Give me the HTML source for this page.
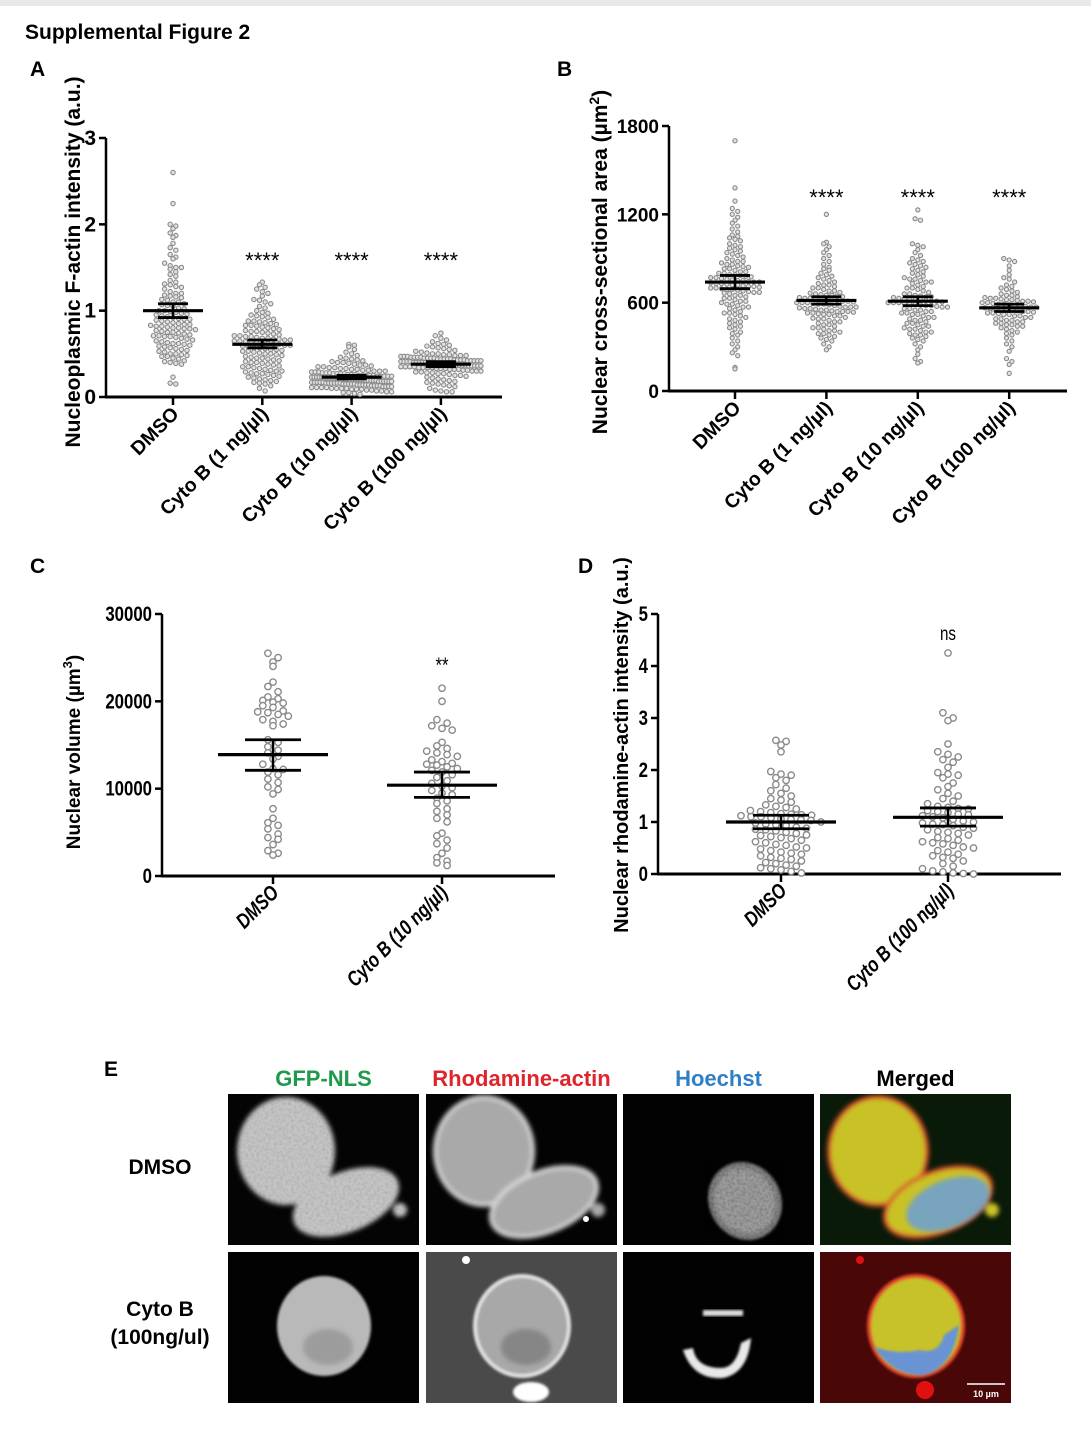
<!DOCTYPE html>
<html><head><meta charset="utf-8">
<style>
html,body{margin:0;padding:0;background:#fff;}
svg{display:block;font-family:"Liberation Sans",Arial,sans-serif;}
</style></head>
<body>
<svg id="fig" width="1091" height="1454" viewBox="0 0 1091 1454" xmlns="http://www.w3.org/2000/svg">
<defs>
<filter id="blur2"><feGaussianBlur stdDeviation="2.5"/></filter>
<filter id="blur1"><feGaussianBlur stdDeviation="1.2"/></filter>
<filter id="noise"><feTurbulence type="fractalNoise" baseFrequency="0.35" numOctaves="2" seed="3"/><feColorMatrix values="0 0 0 0 0  0 0 0 0 0  0 0 0 0 0  0 0 0 -1.6 1.0"/></filter>
</defs>
<rect x="0" y="0" width="1091" height="1454" fill="#fff"/>
<rect x="0" y="0" width="1091" height="6" fill="#e9e9e9"/>
<text x="25" y="39" font-weight="bold" font-size="21">Supplemental Figure 2</text>
<text x="30" y="76" font-weight="bold" font-size="21">A</text>
<text x="557" y="76" font-weight="bold" font-size="21">B</text>
<text x="30" y="573" font-weight="bold" font-size="21">C</text>
<text x="578" y="573" font-weight="bold" font-size="21">D</text>
<text x="104" y="1076" font-weight="bold" font-size="21">E</text>
<g id="charts"></g>
<g id="images"></g>
</svg>
<script>
// ---------- Panel A data ----------
const catsA = ["DMSO","Cyto B (1 ng/\u00b5l)","Cyto B (10 ng/\u00b5l)","Cyto B (100 ng/\u00b5l)"];
const ticksA = [0,1,2,3];
const starsA = ["","****","****","****"];
const meanA = [1.0,0.61,0.23,0.38];
const semLoA = [0.92,0.57,0.21,0.35];
const semHiA = [1.08,0.66,0.25,0.41];
const a0 = [2.6,2.24,2.0,1.98,1.95,1.9,1.87,1.85,1.78,1.73,1.7,1.65,1.62,1.6,1.55,1.52,1.5,1.5,1.48,1.45,1.42,1.4,1.35,1.33,1.31,1.3,1.28,1.27,1.25,1.22,1.2,1.2,1.18,1.16,1.15,1.13,1.12,1.1,1.1,1.08,1.06,1.05,1.03,1.02,1.0,1.0,0.99,0.97,0.96,0.95,0.94,0.93,0.92,0.9,0.9,0.88,0.87,0.86,0.85,0.84,0.84,0.83,0.82,0.82,0.81,0.8,0.8,0.79,0.78,0.77,0.76,0.75,0.75,0.74,0.73,0.72,0.71,0.7,0.7,0.69,0.68,0.67,0.66,0.65,0.64,0.63,0.62,0.62,0.61,0.6,0.58,0.57,0.56,0.55,0.54,0.53,0.52,0.5,0.5,0.49,0.48,0.47,0.47,0.45,0.44,0.42,0.41,0.4,0.39,0.38,0.23,0.16,0.15,1.17,1.07,0.98,0.91,0.89,0.79,0.71,0.59];
const a1 = [1.33,1.3,1.27,1.25,1.22,1.2,1.17,1.13,1.12,1.1,1.08,1.05,1.03,1.0,0.98,0.97,0.95,0.93,0.92,0.9,0.88,0.87,0.86,0.85,0.84,0.83,0.82,0.81,0.8,0.79,0.78,0.77,0.76,0.75,0.74,0.73,0.72,0.71,0.7,0.7,0.69,0.68,0.68,0.67,0.66,0.66,0.65,0.65,0.64,0.63,0.62,0.62,0.61,0.6,0.6,0.59,0.58,0.57,0.56,0.55,0.55,0.54,0.53,0.52,0.51,0.5,0.5,0.49,0.48,0.47,0.46,0.45,0.45,0.44,0.43,0.42,0.41,0.4,0.4,0.39,0.38,0.37,0.36,0.35,0.35,0.34,0.33,0.32,0.31,0.3,0.3,0.29,0.28,0.27,0.27,0.26,0.25,0.24,0.23,0.22,0.21,0.2,0.19,0.18,0.17,0.16,0.15,0.13,0.1,0.07,0.64,0.57,0.61,0.67,0.53,0.71,0.76,0.83,0.88,0.94];
const a2 = [0.61,0.6,0.58,0.55,0.52,0.5,0.48,0.46,0.45,0.44,0.43,0.42,0.41,0.4,0.4,0.39,0.38,0.37,0.37,0.36,0.35,0.35,0.34,0.34,0.33,0.33,0.32,0.32,0.31,0.31,0.3,0.3,0.3,0.29,0.29,0.29,0.28,0.28,0.28,0.27,0.27,0.27,0.26,0.26,0.26,0.25,0.25,0.25,0.25,0.24,0.24,0.24,0.24,0.23,0.23,0.23,0.23,0.22,0.22,0.22,0.22,0.21,0.21,0.21,0.21,0.2,0.2,0.2,0.2,0.19,0.19,0.19,0.19,0.18,0.18,0.18,0.18,0.17,0.17,0.17,0.17,0.16,0.16,0.16,0.16,0.15,0.15,0.15,0.15,0.14,0.14,0.14,0.14,0.13,0.13,0.13,0.12,0.12,0.12,0.11,0.11,0.11,0.1,0.1,0.1,0.09,0.09,0.09,0.08,0.08,0.07,0.07,0.06,0.06,0.05,0.05,0.04,0.03,0.25,0.22,0.2,0.18,0.16,0.14,0.12,0.27,0.21,0.19,0.17,0.15,0.13,0.11,0.24,0.23,0.2,0.18,0.16,0.1];
const a3 = [0.74,0.71,0.68,0.66,0.64,0.62,0.61,0.6,0.59,0.58,0.57,0.56,0.55,0.54,0.53,0.52,0.51,0.5,0.5,0.49,0.49,0.48,0.48,0.47,0.47,0.47,0.46,0.46,0.46,0.45,0.45,0.45,0.45,0.44,0.44,0.44,0.44,0.43,0.43,0.43,0.43,0.42,0.42,0.42,0.42,0.41,0.41,0.41,0.41,0.4,0.4,0.4,0.4,0.39,0.39,0.39,0.39,0.38,0.38,0.38,0.38,0.37,0.37,0.37,0.37,0.36,0.36,0.36,0.36,0.35,0.35,0.35,0.35,0.34,0.34,0.34,0.33,0.33,0.33,0.32,0.32,0.32,0.31,0.31,0.3,0.3,0.3,0.29,0.29,0.28,0.28,0.27,0.27,0.26,0.25,0.25,0.24,0.23,0.22,0.21,0.2,0.19,0.18,0.17,0.16,0.15,0.14,0.13,0.12,0.1,0.08,0.07,0.06,0.06,0.44,0.42,0.4,0.38,0.36,0.46,0.48,0.34];

// ---------- Panel B data ----------
const catsB = catsA;
const ticksB = [0,600,1200,1800];
const starsB = ["","****","****","****"];
const meanB = [740,615,610,565];
const semLoB = [695,590,580,540];
const semHiB = [785,640,640,590];
const b0 = [1700,1380,1290,1240,1220,1200,1180,1160,1140,1120,1100,1080,1060,1050,1040,1030,1020,1000,990,980,970,960,950,940,930,920,910,900,890,880,870,860,850,845,840,830,820,810,800,800,790,785,780,775,770,765,760,755,750,745,740,740,735,730,725,720,720,715,710,705,700,700,695,690,685,680,675,670,665,660,650,640,630,620,610,600,590,580,570,560,550,540,530,520,500,490,480,470,460,450,440,430,420,400,390,380,360,340,320,300,280,260,240,160,150,880,860,830,810,790,770,750,730,710,690,670,650,630,610,590,570,530,510];
const b1 = [1200,1010,1000,980,960,940,920,900,880,860,840,830,820,800,790,780,770,760,750,740,730,720,710,700,690,680,670,665,660,655,650,645,640,635,630,625,620,620,615,610,605,600,600,595,590,585,580,575,570,565,560,555,550,545,540,540,535,530,525,520,510,500,495,490,480,470,460,450,440,430,420,410,400,390,380,370,360,350,340,320,300,280,650,630,610,590,570,550,530,510,490,470,450,430,410,390,560,600,620,680,700,720,570,540,520];
const b2 = [1230,1170,1160,1000,990,980,960,940,920,900,890,880,870,860,850,840,830,820,810,800,790,780,770,760,750,740,730,720,710,700,690,680,670,660,650,645,640,635,630,625,620,615,610,605,600,600,595,590,585,580,575,570,560,550,540,530,520,510,500,490,480,470,460,450,440,430,420,410,400,390,380,370,360,350,340,320,300,280,250,220,200,190,640,620,600,580,560,540,520,500,480,460,440,420,400,380,660,700,740,760,620,610,590,570,550,530];
const b3 = [900,890,880,850,820,790,770,760,740,720,710,700,690,680,670,660,650,640,635,630,625,620,615,610,605,600,595,590,585,580,575,570,565,560,555,550,545,540,535,530,525,520,510,500,490,480,470,460,450,440,430,420,410,400,390,380,360,340,320,300,270,220,200,180,120,620,600,580,560,540,520,500,480,460,440,650,630,610,590,570,550,530,510,490,470,450];

// ---------- Panel C data ----------
const catsC = ["DMSO","Cyto B (10 ng/\u00b5l)"];
const ticksC = [0,10000,20000,30000];
const starsC = ["","**"];
const meanC = [13900,10400];
const semLoC = [12100,9000];
const semHiC = [15600,11900];
const c0 = [25500,25000,24500,24000,22200,21700,21100,20500,20300,20100,19900,19800,19500,19300,18900,18800,18700,18500,18300,17900,17700,17400,17200,15600,15300,14800,14400,14100,13700,13400,12800,12300,12200,11900,11600,11100,10700,10200,9900,9400,7700,6600,6100,5800,5400,4800,4400,4200,3600,2900,2600,2400];
const c1 = [21500,20000,17900,17500,17200,16900,16700,15300,14900,14600,14300,14100,13900,13700,13300,13100,12900,12800,12700,12500,12300,12100,11900,11600,11300,10900,10600,10300,10100,9800,9500,9300,8900,8600,8300,7700,7400,7000,6600,6200,4900,4600,4100,3700,3200,2600,2100,1700,1500,1200];

// ---------- Panel D data ----------
const catsD = ["DMSO","Cyto B (100 ng/\u00b5l)"];
const ticksD = [0,1,2,3,4,5];
const starsD = ["","ns"];
const meanD = [1.0,1.09];
const semLoD = [0.87,0.92];
const semHiD = [1.13,1.27];
const d0 = [2.57,2.55,2.48,2.35,1.97,1.92,1.9,1.85,1.8,1.72,1.65,1.6,1.55,1.5,1.45,1.42,1.38,1.33,1.3,1.28,1.25,1.22,1.2,1.18,1.15,1.14,1.13,1.12,1.1,1.1,1.08,1.06,1.05,1.03,1.0,0.98,0.95,0.93,0.9,0.88,0.85,0.83,0.8,0.78,0.75,0.72,0.7,0.68,0.65,0.62,0.6,0.57,0.55,0.52,0.5,0.48,0.45,0.42,0.4,0.38,0.35,0.32,0.3,0.28,0.25,0.22,0.2,0.17,0.15,0.12,0.1,0.08,0.05,0.02,1.16,1.04,0.96,0.86,0.74];
const d1 = [4.25,3.1,3.0,2.95,2.5,2.35,2.3,2.25,2.2,2.15,2.05,1.95,1.92,1.9,1.85,1.75,1.68,1.62,1.55,1.5,1.45,1.4,1.35,1.3,1.28,1.25,1.22,1.2,1.18,1.15,1.12,1.1,1.08,1.05,1.02,1.0,0.98,0.95,0.93,0.9,0.88,0.85,0.82,0.8,0.75,0.7,0.68,0.65,0.62,0.6,0.55,0.52,0.5,0.45,0.42,0.38,0.35,0.32,0.3,0.25,0.2,0.15,0.1,0.06,0.04,0.02,0.01,0.0,1.26,1.14,0.96,0.78,0.58];

const NS = "http://www.w3.org/2000/svg";
function mk(tag, attrs, parent){ const e=document.createElementNS(NS,tag); for(const k in attrs) e.setAttribute(k,attrs[k]); if(parent) parent.appendChild(e); return e; }

function drawPanel(P){
  const g = mk("g",{}, document.getElementById("charts"));
  
  
  const yS = v => P.y0 + (v - P.vmin)/(P.vmax - P.vmin)*(P.y1 - P.y0);
  const xS = i => P.cx0 + i*P.cstep;
  const ya = mk("line",{x1:P.ax,y1:yS(P.vmax),x2:P.ax,y2:P.y0,stroke:"#000","stroke-width":2.5},g);
  
  
  P.ticks.forEach(t=>{
    const tl = mk("line",{x1:P.ax-7,y1:yS(t),x2:P.ax,y2:yS(t),stroke:"#000","stroke-width":2.5},g);
    
    
    const tx = mk("text",{x:0,y:0,"text-anchor":"end","font-size":P.tickFs,"font-weight":"bold",transform:`translate(${P.ax-10},${yS(t)+7}) scale(${P.sx},1)`},g);
    tx.textContent = t;
    
    
  });
  const xa = mk("line",{x1:P.ax-1,y1:P.y0,x2:P.axEnd,y2:P.y0,stroke:"#000","stroke-width":3},g);
  
  
  const yt = mk("text",{x:0,y:0,"text-anchor":"middle","font-size":P.titleFs,"font-weight":"bold",transform:`translate(${P.titleX},${P.titleY}) rotate(-90)`},g);
  yt.innerHTML = P.title;
  
  
  P.cats.forEach((c,i)=>{
    const cx = xS(i);
    const tk = mk("line",{x1:cx,y1:P.y0,x2:cx,y2:P.y0+8,stroke:"#000","stroke-width":2.5},g);
    
    
    const lb = mk("text",{x:0,y:0,"text-anchor":"end","font-size":P.labFs,"font-weight":"bold","font-style":P.narrow?"italic":"normal",transform:`translate(${cx+7},${P.y0+18}) rotate(-45) scale(${P.sx},1)`},g);
    lb.textContent = c;
    
    
    const vals = P.series[i].slice().sort((a,b)=>b-a);
    const rows = {};
    vals.forEach(v=>{ const k=Math.round(yS(v)/P.rowH); (rows[k]=rows[k]||[]).push(v); });
    for(const k in rows){
      const arr = rows[k]; const n=arr.length;
      const dx = Math.min(P.dx, n>1 ? P.maxW/(n-1) : P.dx);
      arr.forEach((v,j)=>{
        const off = (j - (n-1)/2)*dx;
        const pt = mk("circle",{cx:cx+off,cy:yS(v),r:P.r,fill:P.fill,stroke:"#8a8a8a","stroke-width":P.sw},g);
        
        
      });
    }
    const ml = mk("line",{x1:cx-P.meanW,y1:yS(P.means[i]),x2:cx+P.meanW,y2:yS(P.means[i]),stroke:"#000","stroke-width":3.2},g);
    
    
    const sv = mk("line",{x1:cx,y1:yS(P.lo[i]),x2:cx,y2:yS(P.hi[i]),stroke:"#000","stroke-width":2.5},g);
    
    
    [P.lo[i],P.hi[i]].forEach(v=>{
      const cap = mk("line",{x1:cx-P.capW,y1:yS(v),x2:cx+P.capW,y2:yS(v),stroke:"#000","stroke-width":2.8},g);
      
      
    });
    if(P.stars[i]){
      const st = mk("text",{x:0,y:0,"text-anchor":"middle","font-size":P.starFs,transform:`translate(${cx},${P.starY}) scale(${P.sx},1)`},g);
      st.textContent = P.stars[i];
      
      
    }
  });
}

drawPanel({name:"chart-a",ax:106,axEnd:502,y0:397,y1:138,vmin:0,vmax:3,cx0:173,cstep:89.3,cats:catsA,ticks:ticksA,series:[a0,a1,a2,a3],means:meanA,lo:semLoA,hi:semHiA,stars:starsA,starY:268,starFs:22,r:2.2,dx:5.6,maxW:80,rowH:5.2,fill:"#e2e2e2",sw:1.1,meanW:30,capW:15,tickFs:21,labFs:19.5,titleFs:21,titleX:80,titleY:262,sx:1,title:"Nucleoplasmic F-actin intensity (a.u.)"});
drawPanel({name:"chart-b",ax:669,axEnd:1067,y0:391,y1:126,vmin:0,vmax:1800,cx0:735,cstep:91.4,cats:catsB,ticks:ticksB,series:[b0,b1,b2,b3],means:meanB,lo:semLoB,hi:semHiB,stars:starsB,starY:205,starFs:22,r:2.1,dx:5.4,maxW:80,rowH:5.0,fill:"#e2e2e2",sw:1.1,meanW:30,capW:15,tickFs:19,labFs:19.5,titleFs:21,titleX:607,titleY:262,sx:1,title:"Nuclear cross-sectional area (\u00b5m<tspan dy='-8' font-size='14'>2</tspan><tspan dy='8'>)</tspan>"});
drawPanel({name:"chart-c",ax:162,axEnd:555,y0:876,y1:614,vmin:0,vmax:30000,cx0:273,cstep:169,cats:catsC,ticks:ticksC,series:[c0,c1],means:meanC,lo:semLoC,hi:semHiC,stars:starsC,starY:672,starFs:21,r:3.2,dx:10.2,maxW:60,rowH:6.5,fill:"#fff",sw:1.4,meanW:55,capW:28,tickFs:21,labFs:21,titleFs:19,titleX:80,titleY:752,sx:0.8,title:"Nuclear volume (\u00b5m<tspan dy='-8' font-size='13'>3</tspan><tspan dy='8'>)</tspan>",narrow:true});
drawPanel({name:"chart-d",ax:658,axEnd:1061,y0:874,y1:614,vmin:0,vmax:5,cx0:781,cstep:167,cats:catsD,ticks:ticksD,series:[d0,d1],means:meanD,lo:semLoD,hi:semHiD,stars:starsD,starY:640,starFs:19,r:3.2,dx:10.2,maxW:80,rowH:6.5,fill:"#fff",sw:1.4,meanW:55,capW:28,tickFs:21,labFs:21,titleFs:20,titleX:628,titleY:745,sx:0.8,title:"Nuclear rhodamine-actin intensity (a.u.)",narrow:true});

// ---------- Microscopy images ----------
(function(){
  const G = document.getElementById("images");
  const colX=[228,426,623,820], rowY=[1094,1252], W=191, H=151;
  const heads=[["GFP-NLS","#1e9a4a"],["Rhodamine-actin","#e0242c"],["Hoechst","#2f7fc4"],["Merged","#000"]];
  heads.forEach((h,i)=>{
    const t=mk("text",{x:colX[i]+W/2,y:1086,"text-anchor":"middle","font-size":22,"font-weight":"bold",fill:h[1]},G);
    t.textContent=h[0];
    
    
  });
  const l1=mk("text",{x:160,y:1174,"text-anchor":"middle","font-size":21,"font-weight":"bold"},G);
  l1.textContent="DMSO";
  
  
  const l2=mk("text",{x:160,y:1316,"text-anchor":"middle","font-size":21,"font-weight":"bold"},G);
  l2.textContent="Cyto B";
  
  
  const l3=mk("text",{x:160,y:1344,"text-anchor":"middle","font-size":21,"font-weight":"bold"},G);
  l3.textContent="(100ng/ul)";
  
  

  function tile(c,r,bg){
    const x=colX[c], y=rowY[r];
    const g=mk("g",{},G);
    
    
    const cp=mk("clipPath",{id:"cp"+c+r},g); mk("rect",{x:x,y:y,width:W,height:H},cp);
    const inner=mk("g",{"clip-path":`url(#cp${c}${r})`},g);
    mk("rect",{x:x,y:y,width:W,height:H,fill:bg},inner);
    return {g:inner,x:x,y:y};
  }
  function cell1(t,fill,edge){
    const s=mk("g",{filter:"url(#blur2)"},t.g);
    mk("ellipse",{cx:t.x+58,cy:t.y+57,rx:49,ry:54,fill:fill,stroke:edge||"none","stroke-width":edge?4:0},s);
    mk("ellipse",{cx:t.x+118,cy:t.y+108,rx:56,ry:30,fill:fill,transform:`rotate(-22 ${t.x+118} ${t.y+108})`,stroke:edge||"none","stroke-width":edge?4:0},s);
    mk("circle",{cx:t.x+172,cy:t.y+116,r:7,fill:fill},s);
  }
  function cell2(t,fill,edge){
    mk("ellipse",{cx:t.x+96,cy:t.y+74,rx:47,ry:50,fill:fill,stroke:edge||"none","stroke-width":edge?4:0,filter:"url(#blur1)"},t.g);
  }
  let t=tile(0,0,"#050505"); cell1(t,"#c4c4c4");
  mk("rect",{x:t.x,y:t.y,width:W,height:H,filter:"url(#noise)",opacity:0.12},t.g);
  t=tile(1,0,"#030303"); cell1(t,"#a9a9a9","#d8d8d8");
  mk("circle",{cx:t.x+160,cy:t.y+125,r:3,fill:"#fff"},t.g);
  t=tile(2,0,"#020202");
  mk("ellipse",{cx:t.x+122,cy:t.y+107,rx:36,ry:40,fill:"#7a7a7a",transform:`rotate(-30 ${t.x+122} ${t.y+107})`,filter:"url(#blur1)"},t.g);
  mk("ellipse",{cx:t.x+122,cy:t.y+107,rx:30,ry:34,fill:"#bdbdbd",opacity:0.5,transform:`rotate(-30 ${t.x+122} ${t.y+107})`,filter:"url(#blur2)"},t.g);
  mk("rect",{x:t.x+85,y:t.y+70,width:75,height:75,filter:"url(#noise)",opacity:0.25},t.g);
  t=tile(3,0,"#0a1a08"); cell1(t,"#c9c227","#d7502a");
  mk("ellipse",{cx:t.x+128,cy:t.y+110,rx:44,ry:24,fill:"#6a9fd8",opacity:0.85,transform:`rotate(-22 ${t.x+128} ${t.y+110})`,filter:"url(#blur2)"},t.g);
  t=tile(0,1,"#020202"); cell2(t,"#b9b9b9");
  mk("ellipse",{cx:t.x+100,cy:t.y+95,rx:25,ry:18,fill:"#8a8a8a",opacity:0.6,filter:"url(#blur2)"},t.g);
  t=tile(1,1,"#4a4a4a"); cell2(t,"#a8a8a8","#e0e0e0");
  mk("ellipse",{cx:t.x+100,cy:t.y+95,rx:25,ry:18,fill:"#707070",opacity:0.6,filter:"url(#blur2)"},t.g);
  mk("ellipse",{cx:t.x+105,cy:t.y+140,rx:18,ry:10,fill:"#ffffff",filter:"url(#blur1)"},t.g);
  mk("circle",{cx:t.x+40,cy:t.y+8,r:4,fill:"#ffffff"},t.g);
  t=tile(2,1,"#020202");
  mk("path",{d:`M${t.x+60} ${t.y+98} q10 30 40 28 q25 -5 28 -40 l-10 5 q-5 25 -20 25 q-25 0 -28 -20 z`,fill:"#e8e8e8",filter:"url(#blur1)"},t.g);
  mk("rect",{x:t.x+80,y:t.y+58,width:40,height:6,fill:"#dcdcdc",filter:"url(#blur1)"},t.g);
  t=tile(3,1,"#4a0707"); cell2(t,"#c7c12a","#e04a2a");
  mk("path",{d:`M${t.x+54} ${t.y+95} q20 30 50 28 q30 -8 35 -50 l-15 10 q-5 20 -25 15 q-20 5 -45 -3 z`,fill:"#5f8fe6",opacity:0.9,filter:"url(#blur1)"},t.g);
  mk("circle",{cx:t.x+105,cy:t.y+138,r:9,fill:"#e01010"},t.g);
  mk("circle",{cx:t.x+40,cy:t.y+8,r:4,fill:"#e01010"},t.g);
  const sb=mk("line",{x1:t.x+147,y1:t.y+132,x2:t.x+185,y2:t.y+132,stroke:"#fff","stroke-width":1.5},t.g);
  
  
  const st=mk("text",{x:t.x+166,y:t.y+145,"text-anchor":"middle","font-size":9,"font-weight":"bold",fill:"#fff"},t.g);
  st.textContent="10 \u00b5m";
  
  
})();
</script>
</body></html>
